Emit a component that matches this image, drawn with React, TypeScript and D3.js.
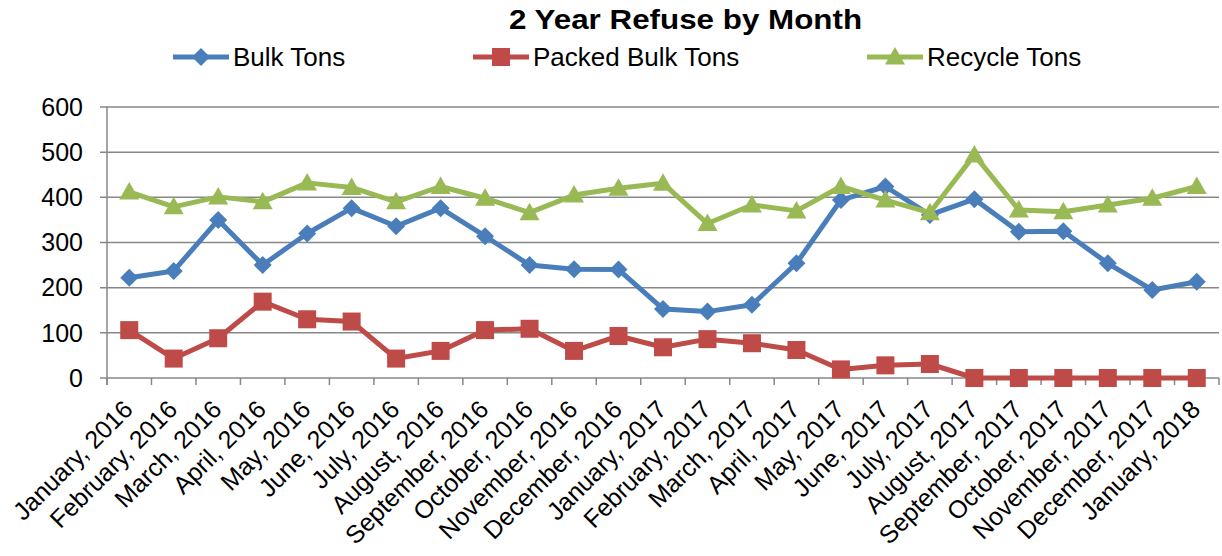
import * as d3 from "d3";

const months = [
  "January, 2016", "February, 2016", "March, 2016", "April, 2016", "May, 2016", "June, 2016",
  "July, 2016", "August, 2016", "September, 2016", "October, 2016", "November, 2016", "December, 2016",
  "January, 2017", "February, 2017", "March, 2017", "April, 2017", "May, 2017", "June, 2017",
  "July, 2017", "August, 2017", "September, 2017", "October, 2017", "November, 2017", "December, 2017",
  "January, 2018",
];

const bulkTons = [222, 237, 350, 250, 320, 376, 336, 376, 314, 250, 241, 240, 153, 147, 162, 254, 394, 424, 361, 396, 324, 325, 254, 195, 213];
const packedBulkTons = [106, 43, 88, 169, 130, 125, 43, 60, 106, 109, 60, 93, 68, 86, 77, 62, 19, 28, 31, 0, 0, 0, 0, 0, 0];
const recycleTons = [412, 379, 401, 390, 432, 422, 390, 424, 398, 366, 405, 420, 431, 342, 383, 370, 424, 394, 366, 494, 372, 368, 383, 398, 424];

const yTicks = [0, 100, 200, 300, 400, 500, 600];

const W = 1222;
const H = 556;
const plot = { left: 107, right: 1219, top: 107, bottom: 378 };
const FONT = "'Liberation Sans', Arial, sans-serif";
const GRID = "#878787";

type Series = { name: string; values: number[]; color: string; marker: "diamond" | "square" | "triangle" };

const series: Series[] = [
  { name: "Bulk Tons", values: bulkTons, color: "#4A7EBB", marker: "diamond" },
  { name: "Packed Bulk Tons", values: packedBulkTons, color: "#BE4B48", marker: "square" },
  { name: "Recycle Tons", values: recycleTons, color: "#98B954", marker: "triangle" },
];

// left end of each legend swatch
const legendX = [173, 473, 867];

function Marker({ kind, x, y, color }: { kind: Series["marker"]; x: number; y: number; color: string }) {
  if (kind === "diamond") {
    const s = 9;
    return <path d={`M${x},${y - s}L${x + s},${y}L${x},${y + s}L${x - s},${y}Z`} fill={color} />;
  }
  if (kind === "square") {
    const s = 9;
    return <rect x={x - s} y={y - s} width={2 * s} height={2 * s} fill={color} />;
  }
  const s = 10;
  return <path d={`M${x},${y - s}L${x + s},${y + s * 0.75}L${x - s},${y + s * 0.75}Z`} fill={color} />;
}

export default function App() {
  const x = d3.scaleBand<string>().domain(months).range([plot.left, plot.right]);
  const y = d3.scaleLinear().domain([0, 600]).range([plot.bottom, plot.top]);
  const cx = (i: number) => (x(months[i]) as number) + x.bandwidth() / 2;
  const line = d3
    .line<number>()
    .x((_, i) => cx(i))
    .y((d) => y(d));

  const boundaries = months.map((m) => x(m) as number).concat([plot.right]);

  return (
    <div style={{ position: "fixed", left: 0, top: 0 }}>
      <svg width={W} height={H} style={{ display: "block", background: "#fff" }} fontFamily={FONT}>
        <text transform="translate(685.5,29) scale(1.12,1)" textAnchor="middle" fontSize={28} fontWeight="bold">
          2 Year Refuse by Month
        </text>

        {series.map((s, i) => (
          <g key={s.name}>
            <line x1={legendX[i]} x2={legendX[i] + 56} y1={57} y2={57} stroke={s.color} strokeWidth={5} />
            <Marker kind={s.marker} x={legendX[i] + 28} y={57} color={s.color} />
            <text x={legendX[i] + 60} y={66} fontSize={26}>
              {s.name}
            </text>
          </g>
        ))}

        {yTicks.map((t) => (
          <g key={t}>
            <line x1={plot.left - 7} x2={plot.right} y1={y(t)} y2={y(t)} stroke={GRID} strokeWidth={1.5} />
            <text x={83} y={y(t)} dy="0.35em" textAnchor="end" fontSize={25}>
              {t}
            </text>
          </g>
        ))}
        <line x1={plot.left} x2={plot.left} y1={plot.top} y2={plot.bottom + 7} stroke={GRID} strokeWidth={1.5} />
        {boundaries.map((b, i) => (
          <line key={i} x1={b} x2={b} y1={plot.bottom} y2={plot.bottom + 7} stroke={GRID} strokeWidth={1.5} />
        ))}

        {months.map((m, i) => (
          <text key={m} transform={`translate(${cx(i) + 5},${plot.bottom + 33}) rotate(-45)`} textAnchor="end" fontSize={25}>
            {m}
          </text>
        ))}

        {series.map((s) => (
          <g key={s.name}>
            <path d={line(s.values) as string} fill="none" stroke={s.color} strokeWidth={5} strokeLinejoin="round" />
            {s.values.map((v, i) => (
              <Marker key={i} kind={s.marker} x={cx(i)} y={y(v)} color={s.color} />
            ))}
          </g>
        ))}
      </svg>
    </div>
  );
}
